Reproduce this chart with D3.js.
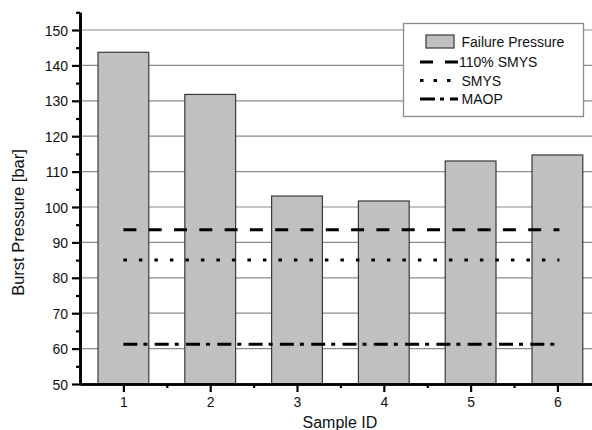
<!DOCTYPE html>
<html>
<head>
<meta charset="utf-8">
<script src="https://cdn.jsdelivr.net/npm/d3@7"></script>
<style>
  html, body { margin: 0; padding: 0; background: #fff; }
  svg { display: block; font-family: "Liberation Sans", Arial, Helvetica, sans-serif; }
</style>
</head>
<body>
<svg id="chart" width="592" height="430"></svg>
<script>
// ---- data ----
const categories = [1, 2, 3, 4, 5, 6];
const failurePressure = [143.7, 131.8, 103.1, 101.7, 113.0, 114.7];
const refLineNames = ["110% SMYS", "SMYS", "MAOP"];
const refLineValues = [93.6, 85.0, 61.2];
const yMajorTicks = [50, 60, 70, 80, 90, 100, 110, 120, 130, 140, 150];
const yMinorTicks = [55, 65, 75, 85, 95, 105, 115, 125, 135, 145, 155];
const xMinorTicks = [1.5, 2.5, 3.5, 4.5, 5.5];
const barLegendLabel = "Failure Pressure";
const xTitle = "Sample ID";
const yTitle = "Burst Pressure [bar]";

// ---- styles ----
const dashStyles = ["13,12.3", "3.5,12", "14,6,4,7.3"];

const svg = d3.select("#chart");
const plotLeft = 80, plotRight = 592, plotBottom = 384;

const x = d3.scaleLinear().domain([0.5, 6.3985]).range([plotLeft, plotRight]);
const y = d3.scaleLinear().domain([50, 155]).range([plotBottom, 12.3]);
const unit = x(2) - x(1);
const barW = unit * 0.585;

// gridlines
svg.append("g").selectAll("line")
  .data(yMajorTicks.filter(v => v > 50))
  .join("line")
  .attr("x1", plotLeft).attr("x2", plotRight)
  .attr("y1", d => y(d)).attr("y2", d => y(d))
  .attr("stroke", "#8c8c8c").attr("stroke-width", 1.2);

// bars
svg.append("g").selectAll("rect")
  .data(categories.map((c, i) => ({ c, v: failurePressure[i] })))
  .join("rect")
  .attr("x", d => x(d.c) - barW / 2)
  .attr("width", barW)
  .attr("y", d => y(d.v))
  .attr("height", d => y(50) - y(d.v))
  .attr("fill", "#c0c0c0")
  .attr("stroke", "#3a3a3a")
  .attr("stroke-width", 1.2);

// reference lines
svg.append("g").selectAll("line")
  .data(refLineValues.map((v, i) => ({ v, i })))
  .join("line")
  .attr("x1", x(categories[0])).attr("x2", x(categories[categories.length - 1]) + 2)
  .attr("y1", d => y(d.v)).attr("y2", d => y(d.v))
  .attr("stroke", "#000").attr("stroke-width", 3)
  .attr("stroke-dasharray", d => dashStyles[d.i]);

// axes
const fontSize = 14;
const yAxisMajor = d3.axisLeft(y).tickValues(yMajorTicks).tickSize(8).tickSizeOuter(0).tickPadding(4);
const gY = svg.append("g").attr("transform", `translate(${plotLeft},0)`).call(yAxisMajor);
const yAxisMinor = d3.axisLeft(y).tickValues(yMinorTicks).tickSize(4).tickSizeOuter(0).tickFormat("");
const gYm = svg.append("g").attr("transform", `translate(${plotLeft},0)`).call(yAxisMinor);

const xAxisMajor = d3.axisBottom(x).tickValues(categories).tickSize(8).tickSizeOuter(0).tickPadding(5).tickFormat(d3.format("d"));
const gX = svg.append("g").attr("transform", `translate(0,${plotBottom})`).call(xAxisMajor);
const xAxisMinor = d3.axisBottom(x).tickValues(xMinorTicks).tickSize(4).tickSizeOuter(0).tickFormat("");
const gXm = svg.append("g").attr("transform", `translate(0,${plotBottom})`).call(xAxisMinor);

[gY, gYm, gX, gXm].forEach(g => {
  g.select(".domain").attr("stroke", "#000").attr("stroke-width", 2.6);
  g.selectAll(".tick line").attr("stroke", "#000").attr("stroke-width", 2.2);
  g.selectAll("text").attr("font-size", fontSize).attr("fill", "#111")
    .attr("font-family", '"Liberation Sans", Arial, sans-serif');
});
gY.selectAll("text").attr("dy", "0.36em");

// axis titles
svg.append("text")
  .attr("x", (x(1) + x(6)) / 2 - 0.5).attr("y", 427.5)
  .attr("text-anchor", "middle").attr("font-size", 16).attr("fill", "#111")
  .text(xTitle);
svg.append("text")
  .attr("transform", "translate(23.5,222.5) rotate(-90)")
  .attr("text-anchor", "middle").attr("font-size", 16.5).attr("fill", "#111")
  .text(yTitle);

// legend
const lg = svg.append("g");
lg.append("rect").attr("x", 403.5).attr("y", 23.5).attr("width", 180).attr("height", 93)
  .attr("fill", "#fff").attr("stroke", "#8a8a8a").attr("stroke-width", 1.3);
lg.append("rect").attr("x", 426).attr("y", 35).attr("width", 28).attr("height", 13)
  .attr("fill", "#c0c0c0").attr("stroke", "#3a3a3a").attr("stroke-width", 1.2);
lg.append("text").attr("x", 461.5).attr("y", 47).attr("font-size", fontSize).attr("fill", "#111")
  .text(barLegendLabel);
const legendRows = [62, 80.5, 99];
const legendTextX = [459, 461.5, 461.5];
refLineNames.forEach((name, i) => {
  lg.append("line").attr("x1", 420).attr("x2", 458)
    .attr("y1", legendRows[i]).attr("y2", legendRows[i])
    .attr("stroke", "#000").attr("stroke-width", 3)
    .attr("stroke-dasharray", i === 0 ? "13,12" : (i === 1 ? "3.5,10" : "15,5,4,6"));
  lg.append("text").attr("x", legendTextX[i]).attr("y", legendRows[i] + 5).attr("font-size", fontSize).attr("fill", "#111")
    .text(name);
});
</script>
</body>
</html>
